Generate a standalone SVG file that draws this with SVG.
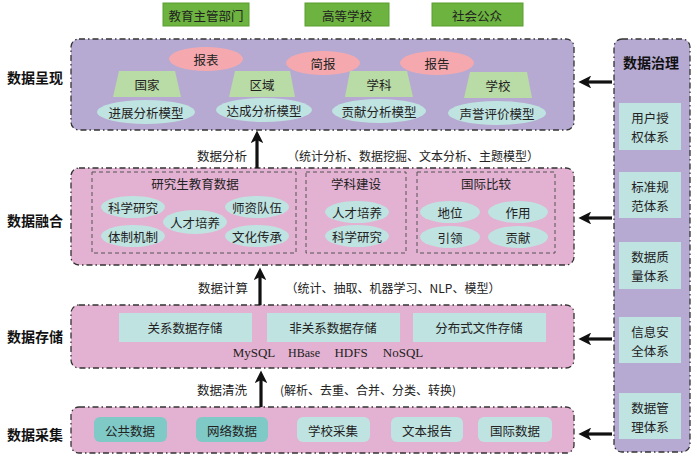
<svg xmlns="http://www.w3.org/2000/svg" width="700" height="473" viewBox="0 0 700 473">
<defs>
<marker id="ah" markerWidth="4" markerHeight="4" refX="1" refY="2" orient="auto" markerUnits="strokeWidth" viewBox="0 0 4 4">
<path d="M0,0 L4,2 L0,4 L1,2 Z" fill="#111"/>
</marker>
<style>
text{font-family:"Noto Sans CJK SC","Noto Sans",sans-serif;font-size:12.5px;fill:#222;text-anchor:middle;dominant-baseline:central}
.lbl{font-size:14px;font-weight:bold;fill:#111}
.lay{stroke:#333;stroke-width:1.3;stroke-dasharray:6 3 1.5 3}
.lav{fill:#b6aad2}
.pink{fill:#e3b1d1}
.cy{fill:#bfe3e1}
.dk{fill:#7fc9c7}
.grn{fill:#6cb33f;stroke:#5a9e30;stroke-width:1}
.trap{fill:#b9dba5}
.pe{fill:#f5a9ae}
.inner{fill:none;stroke:#555;stroke-width:1;stroke-dasharray:4 3}
.ser{font-family:"Liberation Serif",serif;font-size:13px}
.ann{font-size:12px}
.arr{stroke:#111;stroke-width:3.2;fill:none;marker-end:url(#ah)}
</style>
</defs>
<rect width="700" height="473" fill="#fff"/>

<g id="audience">
<rect x="163" y="3" width="86" height="23" class="grn"/><text x="206" y="15">教育主管部门</text>
<rect x="305" y="3" width="84" height="23" class="grn"/><text x="347" y="15">高等学校</text>
<rect x="432" y="3" width="91" height="23" class="grn"/><text x="477" y="15">社会公众</text>
</g>

<g id="labels">
<text x="35" y="77" class="lbl">数据呈现</text>
<text x="35" y="220" class="lbl">数据融合</text>
<text x="35" y="336" class="lbl">数据存储</text>
<text x="35" y="434" class="lbl">数据采集</text>
</g>

<g id="presentation">
<rect x="71" y="39" width="503" height="91" rx="8" class="lav lay"/>
<ellipse cx="206" cy="59" rx="37" ry="12" class="pe"/><text x="206" y="59">报表</text>
<ellipse cx="323" cy="63" rx="37" ry="12" class="pe"/><text x="323" y="63">简报</text>
<ellipse cx="437" cy="63" rx="37" ry="12" class="pe"/><text x="437" y="63">报告</text>
<polygon points="119,71 175,71 181,97 113,97" class="trap"/><text x="147" y="84">国家</text>
<polygon points="235,71 290,71 295,97 229,97" class="trap"/><text x="262" y="84">区域</text>
<polygon points="350,71 407,71 413,97 345,97" class="trap"/><text x="379" y="84">学科</text>
<polygon points="470,72 527,72 532,98 464,98" class="trap"/><text x="498" y="85">学校</text>
<ellipse cx="146" cy="112" rx="49" ry="12" class="cy"/><text x="146" y="112">进展分析模型</text>
<ellipse cx="264" cy="110" rx="48" ry="12" class="cy"/><text x="264" y="110">达成分析模型</text>
<ellipse cx="379" cy="111" rx="47" ry="12" class="cy"/><text x="379" y="111">贡献分析模型</text>
<ellipse cx="497" cy="113" rx="49" ry="12" class="cy"/><text x="497" y="113">声誉评价模型</text>
</g>

<g id="fusion">
<rect x="71" y="168" width="503" height="97" rx="8" class="pink lay"/>
<rect x="92" y="172" width="204" height="81" class="inner"/>
<text x="195" y="183">研究生教育数据</text>
<ellipse cx="133" cy="207" rx="32" ry="11" class="cy"/><text x="133" y="207">科学研究</text>
<ellipse cx="133" cy="236" rx="32" ry="11" class="cy"/><text x="133" y="236">体制机制</text>
<ellipse cx="195" cy="222" rx="32" ry="12" class="cy"/><text x="195" y="222">人才培养</text>
<ellipse cx="257" cy="207" rx="32" ry="11" class="cy"/><text x="257" y="207">师资队伍</text>
<ellipse cx="257" cy="236" rx="32" ry="11" class="cy"/><text x="257" y="236">文化传承</text>
<rect x="306" y="172" width="100" height="81" class="inner"/>
<text x="356" y="183">学科建设</text>
<ellipse cx="357" cy="212" rx="32" ry="11" class="cy"/><text x="357" y="212">人才培养</text>
<ellipse cx="357" cy="236" rx="32" ry="11" class="cy"/><text x="357" y="236">科学研究</text>
<rect x="417" y="172" width="138" height="81" class="inner"/>
<text x="486" y="183">国际比较</text>
<ellipse cx="450" cy="212" rx="30" ry="11" class="cy"/><text x="450" y="212">地位</text>
<ellipse cx="518" cy="212" rx="30" ry="11" class="cy"/><text x="518" y="212">作用</text>
<ellipse cx="450" cy="237" rx="30" ry="11" class="cy"/><text x="450" y="237">引领</text>
<ellipse cx="518" cy="237" rx="30" ry="11" class="cy"/><text x="518" y="237">贡献</text>
</g>

<g id="storage">
<rect x="71" y="305" width="503" height="63" rx="8" class="pink lay"/>
<rect x="119" y="313" width="133" height="29" class="cy"/><text x="185" y="327">关系数据存储</text>
<rect x="267" y="313" width="133" height="29" class="cy"/><text x="333" y="327">非关系数据存储</text>
<rect x="413" y="313" width="133" height="29" class="cy"/><text x="479" y="327">分布式文件存储</text>
<text x="254" y="352" class="ser">MySQL</text>
<text x="304" y="353" class="ser" style="font-size:12px">HBase</text>
<text x="351" y="352" class="ser">HDFS</text>
<text x="403" y="352" class="ser">NoSQL</text>
</g>

<g id="collection">
<rect x="71" y="407" width="503" height="46" rx="8" class="pink lay"/>
<rect x="94" y="417" width="73" height="25" rx="6" class="dk"/><text x="130" y="430">公共数据</text>
<rect x="196" y="417" width="72" height="25" rx="6" class="dk"/><text x="232" y="430">网络数据</text>
<rect x="297" y="417" width="73" height="25" rx="6" class="cy"/><text x="333" y="430">学校采集</text>
<rect x="391" y="417" width="72" height="25" rx="6" class="cy"/><text x="427" y="430">文本报告</text>
<rect x="478" y="417" width="74" height="25" rx="6" class="cy"/><text x="515" y="430">国际数据</text>
</g>

<g id="governance">
<rect x="614" y="39" width="76" height="413" rx="8" class="lav lay"/>
<text x="651" y="62" class="lbl">数据治理</text>
<rect x="619" y="103" width="62" height="47" class="cy"/><text x="650" y="117">用户授</text><text x="650" y="136">权体系</text>
<rect x="619" y="172" width="62" height="46" class="cy"/><text x="650" y="186">标准规</text><text x="650" y="205">范体系</text>
<rect x="619" y="242" width="62" height="47" class="cy"/><text x="650" y="256">数据质</text><text x="650" y="275">量体系</text>
<rect x="619" y="317" width="62" height="46" class="cy"/><text x="650" y="331">信息安</text><text x="650" y="350">全体系</text>
<rect x="619" y="393" width="62" height="46" class="cy"/><text x="650" y="407">数据管</text><text x="650" y="426">理体系</text>
</g>

<g id="connectors">
<line x1="257" y1="168" x2="257" y2="140" class="arr"/>
<line x1="260" y1="305" x2="260" y2="277" class="arr"/>
<line x1="261" y1="407" x2="261" y2="380" class="arr"/>
<line x1="612" y1="82" x2="588" y2="82" class="arr"/>
<line x1="612" y1="218" x2="588" y2="218" class="arr"/>
<line x1="612" y1="339" x2="588" y2="339" class="arr"/>
<line x1="612" y1="434" x2="588" y2="434" class="arr"/>
<text x="222" y="155">数据分析</text>
<text x="413" y="155" class="ann">（统计分析、数据挖掘、文本分析、主题模型）</text>
<text x="223" y="287">数据计算</text>
<text x="393" y="287" class="ann">（统计、抽取、机器学习、NLP、模型）</text>
<text x="222" y="389">数据清洗</text>
<text x="368" y="389" class="ann">(解析、去重、合并、分类、转换)</text>
</g>
</svg>
